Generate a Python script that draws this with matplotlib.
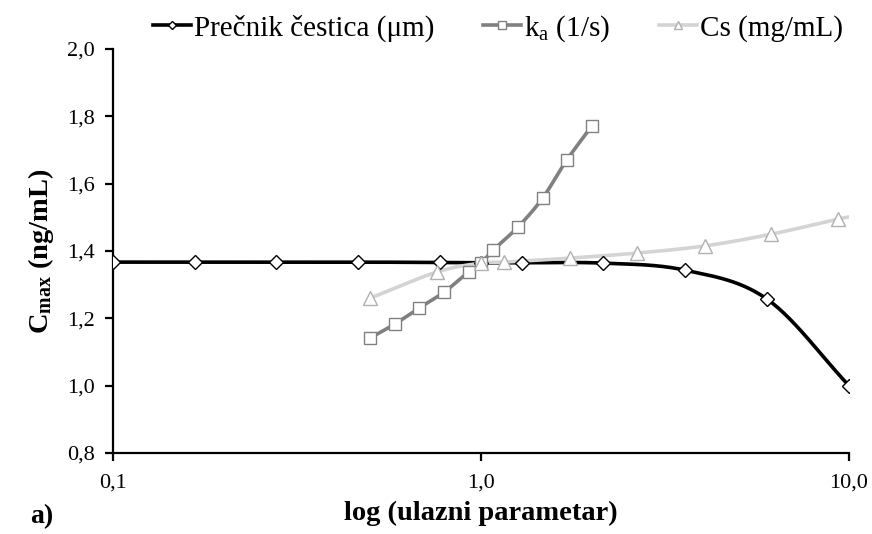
import numpy as np
import matplotlib
matplotlib.use("Agg")
import matplotlib.pyplot as plt
from matplotlib.ticker import FixedLocator, FixedFormatter, NullLocator

plt.rcParams['font.family'] = ['Liberation Serif', 'DejaVu Serif']
plt.rcParams['mathtext.fontset'] = 'custom'
plt.rcParams['mathtext.rm'] = 'Liberation Serif'
plt.rcParams['mathtext.bf'] = 'Liberation Serif:bold'
plt.rcParams['mathtext.it'] = 'Liberation Serif:italic'

# precnik cestica
x_d = [0.1, 0.167, 0.278, 0.464, 0.774, 1.0, 1.29, 2.15, 3.59, 5.99, 10.0]
y_d = [1.367, 1.367, 1.367, 1.367, 1.366, 1.365, 1.365, 1.364, 1.343, 1.257, 1.000]

# ka
x_k = [0.5, 0.583, 0.680, 0.794, 0.926, 1.0, 1.08, 1.26, 1.47, 1.71, 2.0]
y_k = [1.142, 1.183, 1.231, 1.278, 1.338, 1.364, 1.403, 1.471, 1.557, 1.670, 1.771]

# Cs
x_c = [0.5, 0.76, 1.0, 1.155, 1.75, 2.66, 4.05, 6.15, 9.35, 10.0]
y_c = [1.260, 1.338, 1.364, 1.367, 1.379, 1.394, 1.415, 1.450, 1.495, 1.501]

legend_labels = ['Prečnik čestica (μm)', r'k$_{\mathregular{a}}$ (1/s)', 'Cs (mg/mL)']
x_ticks = [0.1, 1.0, 10.0]
x_ticklabels = ['0,1', '1,0', '10,0']
y_ticks = [0.8, 1.0, 1.2, 1.4, 1.6, 1.8, 2.0]
y_ticklabels = ['0,8', '1,0', '1,2', '1,4', '1,6', '1,8', '2,0']


def smooth(x, y, n=30):
    # catmull-rom through the points in log-x space
    lx = np.log10(x)
    y = np.asarray(y, float)
    px = np.concatenate([[2 * lx[0] - lx[1]], lx, [2 * lx[-1] - lx[-2]]])
    py = np.concatenate([[2 * y[0] - y[1]], y, [2 * y[-1] - y[-2]]])
    ox, oy = [], []
    t = np.linspace(0, 1, n)
    for i in range(1, len(px) - 2):
        for P, out in ((px, ox), (py, oy)):
            p0, p1, p2, p3 = P[i - 1], P[i], P[i + 1], P[i + 2]
            out.extend(0.5 * (2 * p1 + (-p0 + p2) * t
                              + (2 * p0 - 5 * p1 + 4 * p2 - p3) * t ** 2
                              + (-p0 + 3 * p1 - 3 * p2 + p3) * t ** 3))
    return 10 ** np.array(ox), np.array(oy)


fig = plt.figure(figsize=(8.72, 5.34), dpi=100)
ax = fig.add_axes([0.1296, 0.1517, 0.8440, 0.7565])

series = [
    (x_d, y_d, '#000000', '#000000', 'D', 7, 'Prečnik'),
    (x_k, y_k, '#808080', '#808080', 's', 8.5, 'ka'),
    (x_c, y_c, '#d4d4d4', '#b0b0b0', '^', 9.5, 'Cs'),
]
handles = []
for xs, ys, lc, mc, mk, ms, _ in series:
    sx, sy = smooth(xs, ys)
    ax.plot(sx, sy, color=lc, lw=2.6, solid_capstyle='round', zorder=2)
    pts = list(range(len(xs)))
    if mk == '^':
        pts = pts[:-1]
    ax.plot([xs[i] for i in pts], [ys[i] for i in pts], ls='none', marker=mk,
            ms=ms, mfc='white', mec=mc, mew=1.0, zorder=3)
    h, = ax.plot([], [], color=lc, lw=2.6, marker=mk, ms=ms * 0.6,
                 mfc='white', mec=mc, mew=1.0)
    handles.append(h)

ax.set_xscale('log')
ax.set_xlim(0.1, 10)
ax.set_ylim(0.8, 2.0)
ax.xaxis.set_major_locator(FixedLocator(x_ticks))
ax.xaxis.set_major_formatter(FixedFormatter(x_ticklabels))
ax.xaxis.set_minor_locator(NullLocator())
ax.set_yticks(y_ticks)
ax.set_yticklabels(y_ticklabels)

for s in ['top', 'right']:
    ax.spines[s].set_visible(False)
for s in ['left', 'bottom']:
    ax.spines[s].set_linewidth(1.6)
ax.tick_params(axis='both', direction='out', length=6, width=1.6,
               labelsize=16, pad=7)
ax.tick_params(axis='x', pad=9)

ax.set_xlabel('log (ulazni parametar)', fontsize=20.5, fontweight='bold', labelpad=6)
ax.set_ylabel(r'C$_{\mathbf{max}}$ (ng/mL)', fontsize=20.5, fontweight='bold', labelpad=8)

fig.text(0.034, 0.020, 'a)', fontsize=20, fontweight='bold')

fig.legend(handles, legend_labels, loc='upper center', bbox_to_anchor=(0.571, 1.025),
           ncol=3, frameon=False, fontsize=21, handlelength=1.3,
           handletextpad=0.08, columnspacing=1.7)

fig.savefig('out.png', dpi=100)
